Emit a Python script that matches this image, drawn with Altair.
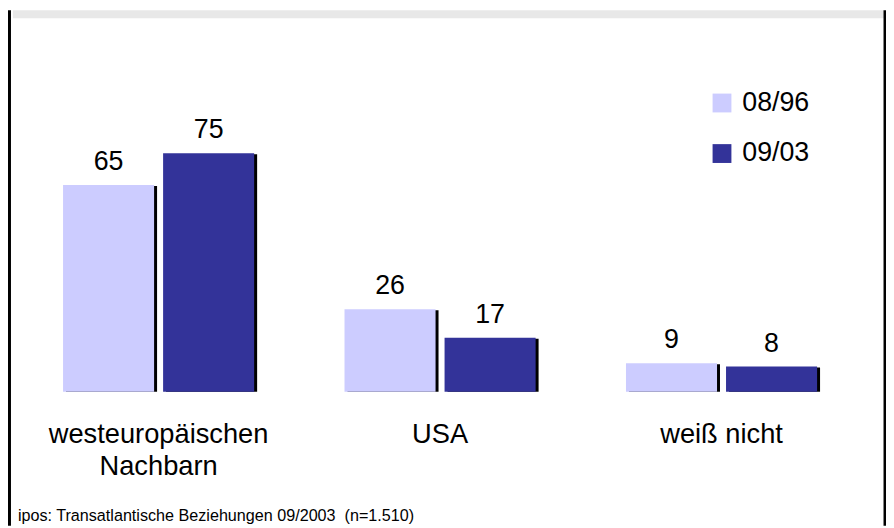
import altair as alt
import pandas as pd

categories = ["westeuropäischen\nNachbarn", "USA", "weiß nicht"]
series = ["08/96", "09/03"]
values_0896 = [65, 26, 9]
values_0903 = [75, 17, 8]
colors = ["#CCCCFF", "#333399"]
footer = "ipos: Transatlantische Beziehungen 09/2003 \u00a0(n=1.510)"

rows = []
for c, v1, v2 in zip(categories, values_0896, values_0903):
    rows.append({"cat": c, "series": series[0], "value": v1})
    rows.append({"cat": c, "series": series[1], "value": v2})
df = pd.DataFrame(rows)

FONT = "Liberation Sans"
W, H = 886, 520

x_enc = alt.X("cat:N", sort=categories, axis=None,
              scale=alt.Scale(range=[51, 821], paddingInner=0.289, paddingOuter=0))
xo_enc = alt.XOffset("series:N", sort=series,
                     scale=alt.Scale(type="band", paddingInner=0.09, paddingOuter=0.045))
xo_shadow = alt.XOffset("series:N", sort=series,
                        scale=alt.Scale(type="band", paddingInner=0.09, paddingOuter=0.045, align=0.83))
y_enc = alt.Y("value:Q", axis=None, scale=alt.Scale(domain=[-42.06, 119.94], nice=False, zero=False))

base = alt.Chart(df)

shadow = base.mark_bar(color="black", yOffset=1).encode(
    x=x_enc, xOffset=xo_shadow, y=y_enc, y2=alt.datum(0)
)

bars = base.mark_bar().encode(
    x=x_enc, xOffset=xo_enc, y=y_enc, y2=alt.datum(0),
    color=alt.Color("series:N", sort=series,
                    scale=alt.Scale(domain=series, range=colors),
                    legend=alt.Legend(title=None, orient="none", legendX=707, legendY=80,
                                      symbolType="square", symbolSize=361,
                                      symbolStrokeWidth=0, labelFontSize=27,
                                      labelFont=FONT, labelColor="black",
                                      rowPadding=23, labelOffset=7, padding=0)),
)

labels = base.mark_text(fontSize=27, font=FONT, color="black", dy=-15,
                        baseline="alphabetic", align="center").encode(
    x=x_enc, xOffset=xo_enc, y=y_enc, text=alt.Text("value:Q")
)

front = alt.layer(bars, labels)

cat_df = pd.DataFrame({"cat": categories})
cat_labels = alt.Chart(cat_df).mark_text(fontSize=27.5, font=FONT, color="black",
                                         baseline="alphabetic", align="center",
                                         lineBreak="\n", lineHeight=31.5).encode(
    x=x_enc, y=alt.value(437), text="cat:N"
)

foot = alt.Chart(pd.DataFrame({"t": [footer]})).mark_text(
    fontSize=16.3, font=FONT, color="black", align="left", baseline="alphabetic"
).encode(x=alt.value(10), y=alt.value(515), text="t:N")

band = alt.Chart(pd.DataFrame({"a": [0]})).mark_rect(color="#E8E8E8").encode(
    x=alt.value(5), x2=alt.value(884), y=alt.value(0), y2=alt.value(8)
)
left_border = alt.Chart(pd.DataFrame({"a": [0]})).mark_rule(color="black", strokeWidth=3).encode(
    x=alt.value(1.5), y=alt.value(0), y2=alt.value(H)
)
right_border = alt.Chart(pd.DataFrame({"a": [0]})).mark_rule(color="black", strokeWidth=2.5).encode(
    x=alt.value(W - 1.25), y=alt.value(0), y2=alt.value(H)
)

chart = alt.layer(band, shadow, front, cat_labels, foot, left_border, right_border).resolve_scale(
    xOffset="independent"
).properties(
    width=W, height=H, autosize=alt.AutoSizeParams(type="none"), padding=0, background="white"
).configure_view(stroke=None)

chart.save("out.html", embed_options={"renderer": "svg", "actions": False})
